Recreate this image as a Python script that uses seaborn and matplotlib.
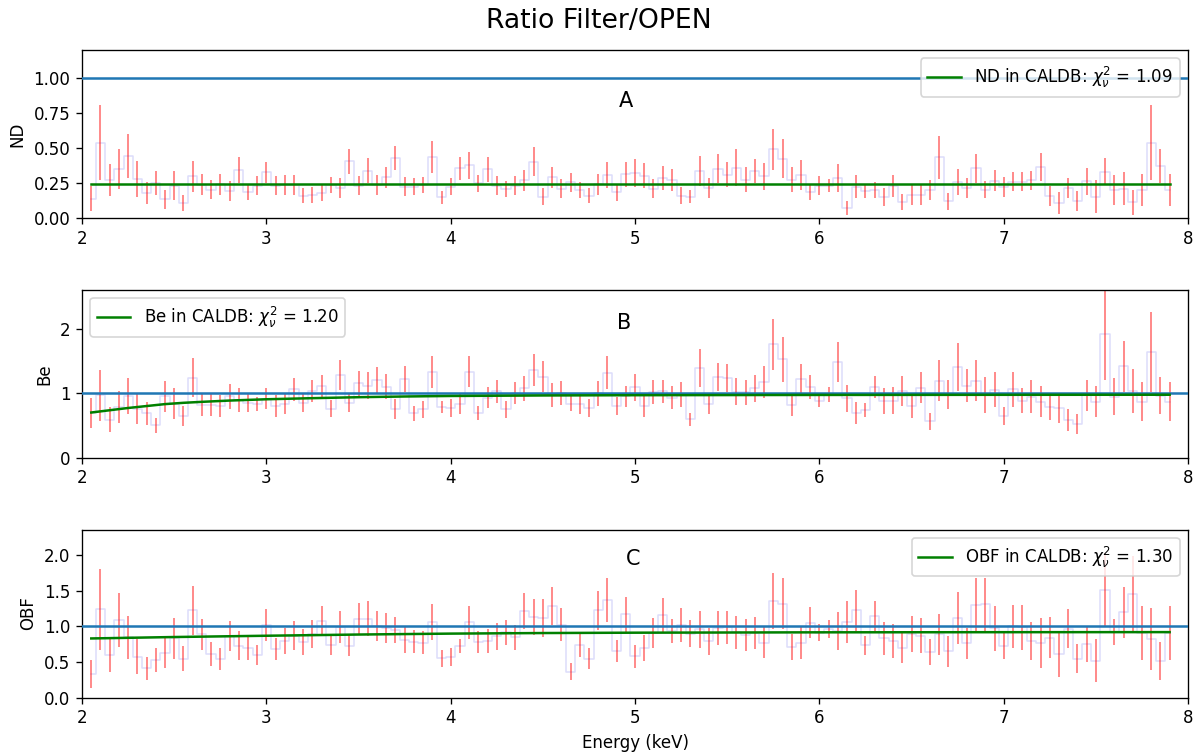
import numpy as np
import matplotlib
matplotlib.use("Agg")
import matplotlib.pyplot as plt
from matplotlib.ticker import MultipleLocator
import seaborn as sns

# ---------------- data ----------------
e_start, e_step = 2.05, 0.05

nd_ratio = [0.136, 0.538, 0.269, 0.347, 0.44, 0.281, 0.18, 0.25, 0.134, 0.229, 0.104, 0.297, 0.238, 0.203, 0.24, 0.193,
            0.34, 0.184, 0.231, 0.325, 0.231, 0.236, 0.236, 0.16, 0.163, 0.18, 0.236, 0.213, 0.404, 0.231, 0.338, 0.236,
            0.29, 0.428, 0.224, 0.224, 0.234, 0.434, 0.146, 0.224,
            0.354, 0.376, 0.246, 0.349, 0.231, 0.205, 0.231, 0.269, 0.4, 0.151, 0.29, 0.21, 0.254, 0.2, 0.16, 0.24,
            0.307, 0.184, 0.312, 0.321, 0.302, 0.21, 0.288, 0.269, 0.16, 0.153, 0.336, 0.213, 0.352, 0.31, 0.357, 0.274,
            0.333, 0.298, 0.489, 0.423, 0.274, 0.307, 0.184,
            0.231, 0.231, 0.284, 0.071, 0.224, 0.191, 0.198, 0.149, 0.227, 0.116, 0.163, 0.163, 0.2, 0.432, 0.118, 0.258,
            0.213, 0.354, 0.203, 0.266, 0.224, 0.26, 0.258, 0.269, 0.361, 0.156, 0.106, 0.213, 0.118, 0.262, 0.153, 0.331,
            0.2, 0.21, 0.111, 0.198, 0.538, 0.368, 0.198]
nd_err = [0.089, 0.266, 0.115, 0.142, 0.158, 0.128, 0.079, 0.086, 0.067, 0.103, 0.057, 0.112, 0.077, 0.069, 0.074, 0.07,
          0.092, 0.059, 0.065, 0.077, 0.065, 0.071, 0.071, 0.053, 0.057, 0.057, 0.059, 0.071, 0.092, 0.065, 0.089, 0.07,
          0.077, 0.085, 0.066, 0.059, 0.057, 0.115, 0.044, 0.059,
          0.083, 0.097, 0.061, 0.089, 0.065, 0.056, 0.065, 0.074, 0.104, 0.061, 0.077, 0.067, 0.07, 0.059, 0.053, 0.074,
          0.095, 0.06, 0.091, 0.097, 0.089, 0.067, 0.086, 0.08, 0.058, 0.047, 0.106, 0.071, 0.103, 0.092, 0.132, 0.089,
          0.085, 0.097, 0.145, 0.139, 0.089, 0.106, 0.058,
          0.065, 0.046, 0.099, 0.047, 0.083, 0.05, 0.057, 0.065, 0.08, 0.056, 0.073, 0.073, 0.071, 0.154, 0.059, 0.092,
          0.071, 0.106, 0.061, 0.077, 0.071, 0.071, 0.067, 0.067, 0.1, 0.073, 0.077, 0.071, 0.071, 0.097, 0.118, 0.095,
          0.106, 0.115, 0.091, 0.116, 0.266, 0.121, 0.116]

be_ratio = [0.688, 0.964, 0.589, 0.792, 0.953, 0.755, 0.688, 0.5, 0.953, 0.839, 0.646, 1.24, 0.813, 0.813, 0.802, 0.948,
            0.891, 0.844, 0.833, 0.911, 0.797, 0.828, 1.057, 0.849, 1.031, 1.109, 0.76, 1.281, 0.854, 1.151, 1.115, 1.198,
            1.099, 0.75, 1.214, 0.688, 0.75, 1.323, 0.786, 0.771,
            0.828, 1.328, 0.693, 0.927, 1.026, 0.75, 1.0, 1.073, 1.359, 1.255, 0.969, 1.005, 0.839, 0.828, 0.766, 1.0,
            1.318, 0.802, 0.948, 1.089, 0.807, 1.016, 1.031, 0.932, 0.979, 0.594, 1.385, 0.828, 1.25, 1.234, 1.021, 1.01,
            1.073, 1.172, 1.755, 1.521, 0.818, 1.219, 1.094,
            0.885, 0.974, 1.479, 0.917, 0.693, 0.745, 1.089, 0.875, 0.88, 1.031, 0.802, 1.083, 0.563, 1.193, 0.979, 1.401,
            1.115, 1.193, 0.969, 1.052, 0.646, 1.057, 0.885, 0.943, 0.87, 0.781, 0.766, 0.583, 0.521, 0.964, 0.87, 1.917,
            0.943, 1.417, 1.031, 0.87, 1.635, 0.958, 0.87]
be_err = [0.234, 0.396, 0.19, 0.247, 0.279, 0.229, 0.182, 0.122, 0.24, 0.242, 0.156, 0.307, 0.174, 0.174, 0.167, 0.195,
          0.19, 0.143, 0.109, 0.161, 0.174, 0.156, 0.174, 0.148, 0.174, 0.177, 0.13, 0.234, 0.143, 0.19, 0.208, 0.214,
          0.19, 0.156, 0.2, 0.117, 0.13, 0.247, 0.086, 0.138,
          0.156, 0.24, 0.112, 0.161, 0.18, 0.13, 0.169, 0.19, 0.242, 0.242, 0.182, 0.19, 0.122, 0.156, 0.143, 0.195,
          0.253, 0.143, 0.169, 0.208, 0.177, 0.188, 0.177, 0.182, 0.19, 0.104, 0.294, 0.156, 0.221, 0.221, 0.208, 0.198,
          0.208, 0.247, 0.393, 0.352, 0.169, 0.234, 0.188,
          0.099, 0.117, 0.313, 0.216, 0.164, 0.109, 0.172, 0.201, 0.208, 0.229, 0.182, 0.24, 0.135, 0.313, 0.229, 0.375,
          0.26, 0.313, 0.279, 0.273, 0.141, 0.268, 0.195, 0.253, 0.247, 0.203, 0.221, 0.169, 0.161, 0.24, 0.247, 0.711,
          0.286, 0.393, 0.346, 0.299, 0.625, 0.286, 0.299]

obf_ratio = [0.329, 1.238, 0.6, 1.09, 0.848, 0.576, 0.414, 0.529, 0.629, 0.833, 0.548, 1.224, 0.886, 0.614, 0.543, 0.862,
             0.729, 0.7, 0.595, 1.019, 0.681, 0.795, 0.871, 0.781, 0.89, 1.076, 0.738, 0.99, 0.729, 1.11, 1.105, 1.005,
             0.971, 0.952, 0.81, 0.781, 0.771, 1.057, 0.552, 0.567,
             0.724, 1.057, 0.776, 0.79, 0.862, 0.914, 0.848, 1.214, 1.133, 1.114, 1.281, 1.024, 0.362, 0.733, 0.548, 1.229,
             1.371, 0.652, 1.167, 0.581, 0.7, 0.91, 1.162, 0.933, 1.014, 0.895, 0.957, 0.79, 0.981, 0.986, 0.914, 0.881,
             0.91, 0.771, 1.357, 1.319, 0.714, 0.767, 1.052,
             0.91, 0.967, 0.938, 1.062, 1.224, 0.733, 1.143, 0.833, 0.79, 0.695, 0.89, 0.871, 0.643, 0.89, 0.652, 1.119,
             0.762, 1.305, 1.31, 0.971, 0.724, 1.0, 0.986, 0.795, 0.767, 0.843, 0.61, 0.967, 0.548, 0.748, 0.519, 1.517,
             0.914, 1.195, 1.46, 0.905, 0.819, 0.519, 0.91]
obf_err = [0.195, 0.571, 0.24, 0.376, 0.3, 0.25, 0.162, 0.169, 0.219, 0.286, 0.174, 0.34, 0.212, 0.171, 0.155, 0.212,
           0.2, 0.171, 0.143, 0.219, 0.155, 0.186, 0.202, 0.179, 0.195, 0.217, 0.143, 0.229, 0.152, 0.214, 0.245, 0.217,
           0.21, 0.183, 0.183, 0.162, 0.16, 0.255, 0.121, 0.124,
           0.102, 0.231, 0.155, 0.169, 0.188, 0.174, 0.176, 0.255, 0.25, 0.267, 0.267, 0.231, 0.117, 0.162, 0.143, 0.274,
           0.31, 0.16, 0.245, 0.16, 0.183, 0.212, 0.243, 0.164, 0.238, 0.19, 0.264, 0.19, 0.24, 0.233, 0.233, 0.221,
           0.226, 0.221, 0.398, 0.362, 0.183, 0.226, 0.214,
           0.121, 0.129, 0.269, 0.298, 0.293, 0.138, 0.214, 0.231, 0.238, 0.212, 0.257, 0.248, 0.183, 0.29, 0.219, 0.364,
           0.221, 0.375, 0.37, 0.314, 0.186, 0.302, 0.317, 0.267, 0.357, 0.29, 0.319, 0.276, 0.207, 0.243, 0.298, 0.512,
           0.183, 0.355, 0.53, 0.381, 0.433, 0.267, 0.379]

# CALDB model curves (read at a few energies)
nd_model_e = [2.05, 7.90]
nd_model = [0.245, 0.245]
be_model_e = [2.05, 2.15, 2.25, 2.35, 2.45, 2.55, 2.65, 2.8, 3.0, 3.25, 3.5, 3.75, 4.0, 4.5, 5.0, 6.0, 7.0, 7.9]
be_model = [0.70, 0.735, 0.77, 0.80, 0.83, 0.85, 0.865, 0.885, 0.905, 0.922, 0.937, 0.948, 0.956, 0.964, 0.968,
            0.972, 0.974, 0.975]
obf_model_e = [2.05, 2.5, 3.0, 3.5, 4.0, 4.5, 5.0, 6.0, 7.0, 7.9]
obf_model = [0.83, 0.85, 0.868, 0.885, 0.898, 0.906, 0.911, 0.916, 0.918, 0.919]

filters = ["ND", "Be", "OBF"]
panel_tags = ["A", "B", "C"]
chi2 = ["1.09", "1.20", "1.30"]
ratios = [nd_ratio, be_ratio, obf_ratio]
errors = [nd_err, be_err, obf_err]
model_e = [nd_model_e, be_model_e, obf_model_e]
models = [nd_model, be_model, obf_model]
ylims = [(0, 1.2), (0, 2.6), (0, 2.36)]
ysteps = [0.25, 1.0, 0.5]
legend_locs = ["upper right", "upper left", "upper right"]
tag_pos = [(4.95, 0.834), (4.94, 2.09), (4.99, 1.95)]

# ---------------- plot ----------------
DPI = 120
fig, axes = plt.subplots(3, 1, figsize=(1198 / DPI, 753 / DPI), dpi=DPI)
fig.subplots_adjust(left=0.0685, right=0.9917, top=0.9336, bottom=0.0737, hspace=0.428)

for k, ax in enumerate(axes):
    y = np.array(ratios[k])
    err = np.array(errors[k])
    energy = np.round(e_start + e_step * np.arange(len(y)), 2)

    sns.lineplot(x=energy, y=y, ax=ax, color="#dcdcfb", lw=0.9, drawstyle="steps-mid",
                 estimator=None, sort=False, zorder=1)
    ax.errorbar(energy, y, yerr=err, fmt="none", ecolor="red", elinewidth=0.9, alpha=0.6,
                capsize=0, zorder=2)
    ax.axhline(1.0, color="#1f77b4", lw=1.5, zorder=3)
    sns.lineplot(x=model_e[k], y=models[k], ax=ax, color="green", lw=1.5, estimator=None,
                 sort=False, zorder=4)
    model_line = ax.get_lines()[-1]
    ax.legend([model_line], [f"{filters[k]} in CALDB: $\\chi^2_\\nu$ = {chi2[k]}"],
              loc=legend_locs[k], fontsize=10)

    ax.text(tag_pos[k][0], tag_pos[k][1], panel_tags[k], fontsize=12.5, ha="center", va="center")
    ax.set_xlim(2, 8)
    ax.set_ylim(*ylims[k])
    ax.yaxis.set_major_locator(MultipleLocator(ysteps[k]))
    ax.set_ylabel(filters[k])
    ax.set_xlabel("")

axes[-1].set_xlabel("Energy (keV)")
fig.suptitle("Ratio Filter/OPEN", fontsize=16, y=0.99)

fig.savefig("out.png", dpi=DPI)
